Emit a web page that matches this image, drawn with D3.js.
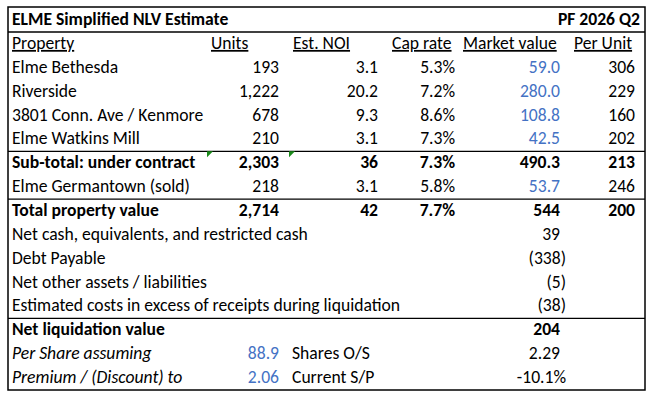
<!DOCTYPE html>
<html>
<head>
<meta charset="utf-8">
<script src="https://cdn.jsdelivr.net/npm/d3@7"></script>
<style>
  body { margin: 0; background: #fff; }
  text { font-family: Carlito, Calibri, Lato, sans-serif; font-size: 17.6px; fill: #000; }
</style>
</head>
<body>
<div id="chart"></div>
<script>
// donnees du tableau
const headers = ["Property", "Units", "Est. NOI", "Cap rate", "Market value", "Per Unit"];
const properties = ["Elme Bethesda", "Riverside", "3801 Conn. Ave / Kenmore", "Elme Watkins Mill"];
const units = [193, 1222, 678, 210];
const noi = [3.1, 20.2, 9.3, 3.1];
const capRate = [0.053, 0.072, 0.086, 0.073];
const marketValue = [59.0, 280.0, 108.8, 42.5];
const perUnit = [306, 229, 160, 202];

const subTotal = ["Sub-total: under contract", 2303, 36, 0.073, 490.3, 213];
const germantown = ["Elme Germantown (sold)", 218, 3.1, 0.058, 53.7, 246];
const total = ["Total property value", 2714, 42, 0.077, 544, 200];

const adjLabels = ["Net cash, equivalents, and restricted cash", "Debt Payable",
  "Net other assets / liabilities", "Estimated costs in excess of receipts during liquidation"];
const adjValues = [39, -338, -5, -38];

const nlvLabel = "Net liquidation value";
const nlv = 204;
const perShare = ["Per Share assuming", 88.9, "Shares O/S", 2.29];
const premium = ["Premium / (Discount) to", 2.06, "Current S/P", -0.101];

const blue = "#4472C4";

const width = 653, height = 402;
const box = {x0: 8, y0: 7, x1: 645, y1: 390};

const svg = d3.select("#chart").append("svg")
  .attr("width", width)
  .attr("height", height);

// lignes du tableau : 1 entete + 14 lignes
const y = d3.scaleBand()
  .domain(d3.range(15))
  .range([32, box.y1]);

// bord droit de chaque colonne (texte aligne a droite)
const colRight = d3.scaleOrdinal()
  .domain(["units", "noi", "cap", "mv", "pu"])
  .range([279, 378, 455, 560, 635]);
const headerLeft = [12, 211, 293, 392, 463, 574];

const fmtInt = d3.format(",");
const fmt1 = d3.format(".1f");
const fmtPct = v => d3.format(".1%")(v).replace("\u2212", "-");
const fmtAcc = v => v < 0 ? "(" + Math.abs(v) + ")" : String(v);

const base = i => y(i) + y.bandwidth() * 0.71;

// titre
svg.append("text").attr("x", 12).attr("y", 25)
  .style("font-weight", "bold").text("ELME Simplified NLV Estimate");
svg.append("text").attr("x", 640).attr("y", 25)
  .attr("text-anchor", "end").style("font-weight", "bold").text("PF 2026 Q2");

// entetes soulignes
svg.selectAll(".hdr").data(headers).enter().append("text")
  .attr("class", "hdr")
  .attr("x", (d, i) => headerLeft[i])
  .attr("y", base(0))
  .style("text-decoration", "underline")
  .text(d => d);

// lignes proprietes
const rows = properties.map((p, i) => ({
  label: p, units: units[i], noi: noi[i], cap: capRate[i], mv: marketValue[i], pu: perUnit[i],
  bold: false, mvBlue: true, mvFmt: fmt1
}));
const asRow = (a, bold, mvBlue, noiFmt, mvFmt) => ({
  label: a[0], units: a[1], noi: a[2], cap: a[3], mv: a[4], pu: a[5],
  bold: bold, mvBlue: mvBlue, noiFmt: noiFmt, mvFmt: mvFmt
});
rows.push(asRow(subTotal, true, false, d3.format("d"), fmt1));
rows.push(asRow(germantown, false, true, fmt1, fmt1));
rows.push(asRow(total, true, false, d3.format("d"), d3.format("d")));

const g = svg.selectAll(".row").data(rows).enter().append("g")
  .attr("class", "row")
  .attr("transform", (d, i) => "translate(0," + base(i + 1) + ")")
  .style("font-weight", d => d.bold ? "bold" : null);

g.append("text").attr("x", 12).text(d => d.label);
g.append("text").attr("x", colRight("units")).attr("text-anchor", "end").text(d => fmtInt(d.units));
g.append("text").attr("x", colRight("noi")).attr("text-anchor", "end").text(d => (d.noiFmt || fmt1)(d.noi));
g.append("text").attr("x", colRight("cap")).attr("text-anchor", "end").text(d => fmtPct(d.cap));
g.append("text").attr("x", colRight("mv")).attr("text-anchor", "end")
  .style("fill", d => d.mvBlue ? blue : "#000").text(d => d.mvFmt(d.mv));
g.append("text").attr("x", colRight("pu")).attr("text-anchor", "end").text(d => d.pu);

// ajustements
const adj = svg.selectAll(".adj").data(adjLabels).enter().append("g")
  .attr("class", "adj")
  .attr("transform", (d, i) => "translate(0," + base(i + 8) + ")");
adj.append("text").attr("x", 12).text(d => d);
adj.append("text")
  .attr("x", (d, i) => colRight("mv") + (adjValues[i] < 0 ? 6 : 0))
  .attr("text-anchor", "end")
  .text((d, i) => fmtAcc(adjValues[i]));

// valeur nette
svg.append("text").attr("x", 12).attr("y", base(12)).style("font-weight", "bold").text(nlvLabel);
svg.append("text").attr("x", colRight("mv")).attr("y", base(12)).attr("text-anchor", "end")
  .style("font-weight", "bold").text(nlv);

// par action
[[perShare, 13, d3.format(".1f"), d3.format(".2f")], [premium, 14, d3.format(".2f"), fmtPct]]
  .forEach(([r, i, f1, f2]) => {
    svg.append("text").attr("x", 12).attr("y", base(i)).style("font-style", "italic").text(r[0]);
    svg.append("text").attr("x", colRight("units")).attr("y", base(i)).attr("text-anchor", "end")
      .style("fill", blue).text(f1(r[1]));
    svg.append("text").attr("x", 292).attr("y", base(i)).text(r[2]);
    svg.append("text").attr("x", colRight("mv") + (r[3] < 0 ? 6 : 0)).attr("y", base(i))
      .attr("text-anchor", "end").text(f2(r[3]));
  });

// traits horizontaux
[0, 5, 7, 12].forEach(i => {
  const yy = i === 0 ? 32 : y(i);
  svg.append("line").attr("x1", box.x0).attr("x2", box.x1).attr("y1", yy).attr("y2", yy)
    .attr("stroke", "#000").attr("stroke-width", 1.3);
});

// cadre
svg.append("rect").attr("x", box.x0).attr("y", box.y0)
  .attr("width", box.x1 - box.x0).attr("height", box.y1 - box.y0)
  .attr("fill", "none").attr("stroke", "#000").attr("stroke-width", 1.5);

// petits triangles verts (indicateurs excel)
[207, 289].forEach(x => {
  const t = y(5);
  svg.append("path")
    .attr("d", "M" + x + "," + t + "h6l-6,6z")
    .attr("fill", "#1a8a1a");
});
</script>
</body>
</html>
